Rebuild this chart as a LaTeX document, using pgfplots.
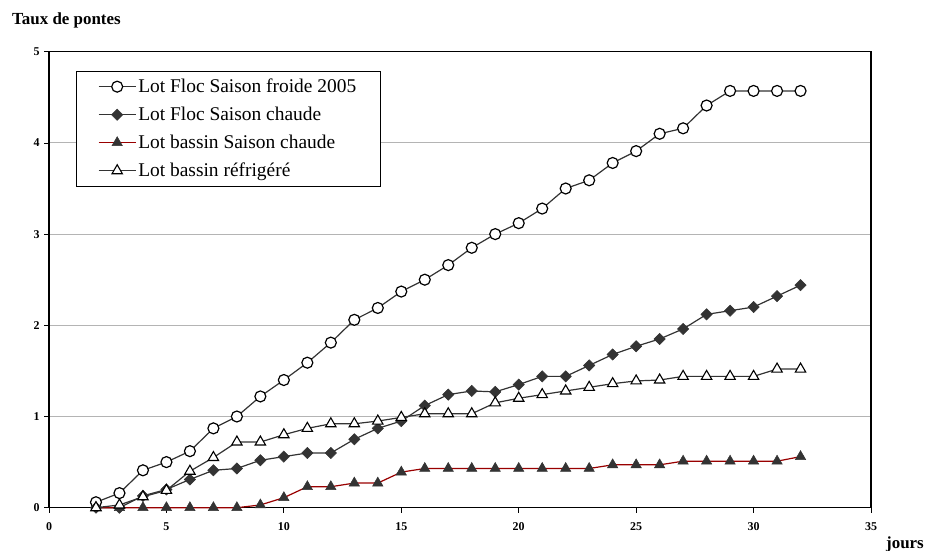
\documentclass[border=0pt]{standalone}
\usepackage{fontspec}
\setmainfont{Liberation Serif}
\usepackage{pgfplots}
\usepackage{pgfplotstable}
\pgfplotsset{compat=1.18}

\definecolor{serie}{HTML}{333333}
\definecolor{rouge}{HTML}{990000}
\definecolor{grille}{HTML}{B4B4B4}

% jour, lot Floc froide 2005, lot Floc chaude, lot bassin chaude, lot bassin refrigere
\pgfplotstableread{
x  froide chaude bassin refr
2  0.06   0.00   0.00   0.00
3  0.16   0.00   0.00   0.03
4  0.41   0.13   0.00   0.12
5  0.50   0.20   0.00   0.19
6  0.62   0.31   0.00   0.40
7  0.87   0.41   0.00   0.55
8  1.00   0.43   0.00   0.72
9  1.22   0.52   0.03   0.72
10 1.40   0.56   0.11   0.80
11 1.59   0.60   0.23   0.87
12 1.81   0.60   0.23   0.92
13 2.06   0.75   0.27   0.92
14 2.19   0.87   0.27   0.95
15 2.37   0.95   0.39   0.99
16 2.50   1.12   0.43   1.03
17 2.66   1.24   0.43   1.03
18 2.85   1.28   0.43   1.03
19 3.00   1.27   0.43   1.15
20 3.12   1.35   0.43   1.20
21 3.28   1.44   0.43   1.24
22 3.50   1.44   0.43   1.28
23 3.59   1.56   0.43   1.32
24 3.78   1.68   0.47   1.36
25 3.91   1.77   0.47   1.39
26 4.10   1.85   0.47   1.40
27 4.16   1.96   0.51   1.44
28 4.41   2.12   0.51   1.44
29 4.57   2.16   0.51   1.44
30 4.57   2.20   0.51   1.44
31 4.57   2.32   0.51   1.52
32 4.57   2.44   0.56   1.52
}\donnees

\begin{document}
\begin{tikzpicture}
\useasboundingbox (-49bp,-43.3bp) rectangle (876bp,507.7bp);
\begin{axis}[
    at={(0,0)}, anchor=south west,
    scale only axis,
    width=822bp, height=456bp,
    xmin=0, xmax=35, ymin=0, ymax=5,
    xtick={0,5,...,35}, ytick={0,1,...,5},
    tick pos=left,
    tick align=outside,
    major tick length=5bp,
    tick style={black, line width=0.8bp},
    axis line style={black, line width=1.4bp},
    ymajorgrids,
    grid style={grille, line width=1bp},
    /pgf/number format/assume math mode=true,
    ticklabel style={font=\bfseries\fontsize{12}{13}\selectfont},
    xticklabel style={yshift=-6bp},
    yticklabel style={xshift=-1bp},
    clip=false,
    legend cell align=left,
    legend style={
        at={(26.7bp,437bp)}, anchor=north west,
        font=\fontsize{19.5}{22}\selectfont,
        draw=black, line width=0.8bp,
        inner xsep=22bp, inner ysep=6bp,
        row sep=9bp,
    },
    legend image code/.code={
        \draw[mark repeat=2, mark phase=2]
            plot coordinates {(0bp,0bp) (18.5bp,0bp) (37bp,0bp)};
    },
]
\addplot[serie, line width=1.2bp, mark=*, mark size=5.5bp,
    mark options={fill=white, draw=black, line width=1.2bp}]
    table[x=x, y=froide] {\donnees};
\addlegendentry{Lot Floc Saison froide 2005}
\addplot[serie, line width=1.2bp, mark=square*, mark size=4bp,
    mark options={fill=serie, draw=serie, rotate=45, line width=0.5bp}]
    table[x=x, y=chaude] {\donnees};
\addlegendentry{Lot Floc Saison chaude}
\addplot[rouge, line width=1.2bp, mark=triangle*, mark size=6bp,
    mark options={fill=serie, draw=serie, line width=0.5bp}]
    table[x=x, y=bassin] {\donnees};
\addlegendentry{Lot bassin Saison chaude}
\addplot[serie, line width=1.2bp, mark=triangle*, mark size=6bp,
    mark options={fill=white, draw=black, line width=1.1bp}]
    table[x=x, y=refr] {\donnees};
\addlegendentry{Lot bassin réfrigéré}
\end{axis}
\node[anchor=west, inner sep=0pt, font=\bfseries\fontsize{17}{19}\selectfont]
    at (-37bp,487.7bp) {Taux de pontes};
\node[anchor=base, inner sep=0pt, font=\bfseries\fontsize{17}{19}\selectfont]
    at (856bp,-40.3bp) {jours};
\end{tikzpicture}
\end{document}
